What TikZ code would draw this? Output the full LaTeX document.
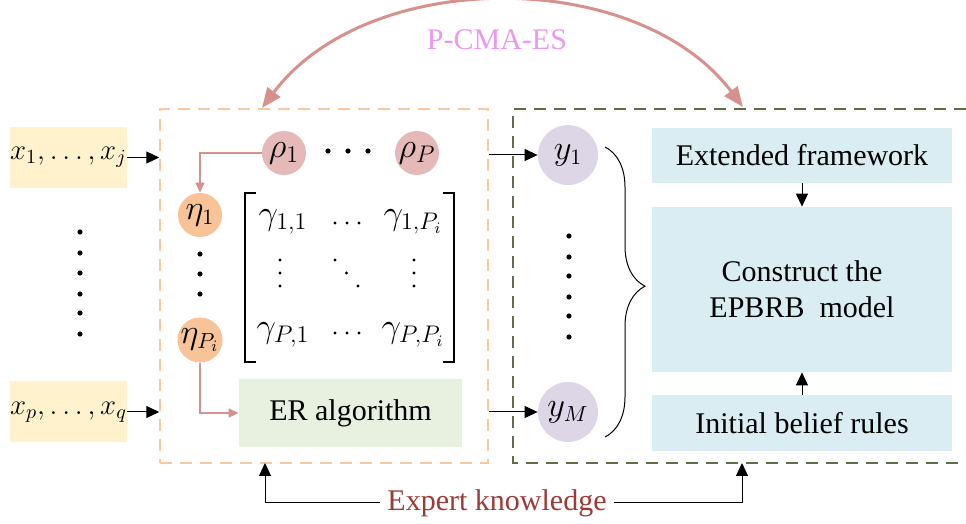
\documentclass[tikz,border=0pt]{standalone}
\usepackage{fontspec}
\setmainfont{Liberation Serif}
\usetikzlibrary{arrows.meta,decorations.pathreplacing}
\definecolor{inyellow}{HTML}{FFF2CC}
\definecolor{rhopink}{HTML}{E5B9B8}
\definecolor{etaorange}{HTML}{F8C497}
\definecolor{ylilac}{HTML}{DDD6E6}
\definecolor{boxblue}{HTML}{DAEDF3}
\definecolor{ergreen}{HTML}{E8F0DF}
\definecolor{arcred}{HTML}{D6918C}
\definecolor{orangedash}{HTML}{F8C8A0}
\definecolor{olivedash}{HTML}{5E6F45}
\definecolor{cmaviolet}{HTML}{EB98F2}
\definecolor{expertred}{HTML}{9C3A36}

\begin{document}
\begin{tikzpicture}[x=0.5pt,y=-0.5pt,
  every node/.style={font=\fontsize{15}{18}\selectfont},
  inbox/.style={fill=inyellow,minimum width=58.5pt,minimum height=30.5pt,inner sep=0pt,
    font=\fontsize{14.5}{18}\selectfont},
  rhonode/.style={circle,fill=rhopink,minimum size=22pt,inner sep=0pt,
    font=\fontsize{17}{18}\selectfont},
  etanode/.style={circle,fill=etaorange,minimum size=22pt,inner sep=0pt,
    font=\fontsize{16}{18}\selectfont},
  ynode/.style={circle,fill=ylilac,minimum size=30pt,inner sep=0pt,
    font=\fontsize{16}{18}\selectfont},
  entry/.style={inner sep=0pt,font=\fontsize{17}{18}\selectfont},
  stepbox/.style={fill=boxblue,minimum width=150pt,inner sep=0pt,align=center},
  flow/.style={line width=0.5pt,-{Triangle[length=6.5pt,width=6pt]}},
  redflow/.style={draw=arcred,line width=0.8pt,-{Triangle[length=5pt,width=4.5pt]}},
  frame/.style={dash pattern=on 6pt off 4pt,line width=0.75pt}
]

% ---- canvas ----
\useasboundingbox (0,0) rectangle (966,524);

% ---- frames ----
\node[frame,draw=orangedash,minimum width=164pt,minimum height=177pt,inner sep=0pt]
  (core) at (324,286) {};
\draw[frame,draw=olivedash] (966,109) -| (513,463) -- (966,463);

% ---- inputs ----
\node[inbox] (in1) at (68.5,157.5) {$x_1,\ldots,x_j$};
\node[inbox] (in2) at (68.5,412) {$x_p,\ldots,x_q$};
\foreach \y in {232,253,273,294,313,334}{
  \fill (80,\y) circle (1.3pt);
}
\draw[flow] (in1.east) -- (core.west |- in1);
\draw[flow] (in2.east) -- (core.west |- in2);

% ---- rho / eta ----
\node[rhonode] (rho1) at (284,153) {$\rho_1$};
\node[rhonode] (rhoP) at (417,153) {$\rho_P$};
\foreach \x in {328,348,368}{
  \fill (\x,151) circle (1.3pt);
}
\node[etanode] (eta1) at (200,215) {$\eta_1$};
\node[etanode] (etaP) at (200,340) {$\eta_{P_i}$};
\foreach \y in {254,274,294}{
  \fill (200,\y) circle (1.3pt);
}
\draw[redflow] (rho1.west) -| (eta1.north);

% ---- belief matrix ----
\node[entry] (g11) at (283,222) {$\gamma_{1,1}$};
\node[entry] (g1p) at (413,222) {$\gamma_{1,P_i}$};
\node[entry] (gp1) at (283,335) {$\gamma_{P,1}$};
\node[entry] (gpp) at (413,335) {$\gamma_{P,P_i}$};
\foreach \i in {0,1,2}{
  \fill (335+12*\i,223) circle (0.8pt);
  \fill (335+12*\i,333) circle (0.8pt);
  \fill (280,260+13*\i) circle (0.8pt);
  \fill (414,260+13*\i) circle (0.8pt);
  \fill (335+11.5*\i,260+13*\i) circle (0.8pt);
}
\draw[line width=0.6pt] (256,193) -| (245,362) -- (256,362);
\draw[line width=0.6pt] (443,193) -| (454,362) -- (443,362);

% ---- ER algorithm ----
\node[fill=ergreen,minimum width=111.5pt,minimum height=34pt,inner sep=0pt]
  (er) at (350.5,413) {ER algorithm};
\draw[redflow] (etaP.south) |- (er.west);

% ---- outputs ----
\node[ynode] (y1) at (568,155) {$y_1$};
\node[ynode] (yM) at (568,412) {$y_M$};
\foreach \y in {236,257,276,297,316,337}{
  \fill (569,\y) circle (1.3pt);
}
\draw[flow] (core.east |- y1) -- (y1.west);
\draw[flow] (core.east |- yM) -- (yM.west);

\coordinate (brtop) at (605,147);
\coordinate (brbot) at (605,437);
\draw[decorate,decoration={brace,amplitude=20pt,aspect=0.48},line width=0.5pt]
  (brtop) -- (brbot);

% ---- EPBRB model ----
\node[stepbox,minimum height=27.5pt] (ext) at (802,155.5) {Extended framework};
\node[stepbox,minimum height=82.5pt] (epbrb) at (802,289.5)
  {Construct the\\EPBRB~ model};
\node[stepbox,minimum height=28pt] (init) at (802,423) {Initial belief rules};
\draw[flow] (ext.south) -- (epbrb.north);
\draw[flow] (init.north) -- (epbrb.south);

% ---- P-CMA-ES ----
\node[text=cmaviolet] (cma) at (497,40) {P-CMA-ES};
\coordinate (arcl) at (262,108);
\coordinate (arcr) at (743,107);
\draw[arcred,line width=1.5pt,{Triangle[length=10pt,width=8pt]}-{Triangle[length=10pt,width=8pt]}]
  (arcl) .. controls (368,-33) and (637,-33) .. (arcr);

% ---- expert knowledge ----
\node[text=expertred] (expert) at (497,503) {Expert knowledge};
\coordinate (ekl) at (265,463);
\coordinate (ekr) at (742,463);
\draw[flow] (expert.west) -| (ekl);
\draw[flow] (expert.east) -| (ekr);

\end{tikzpicture}
\end{document}
